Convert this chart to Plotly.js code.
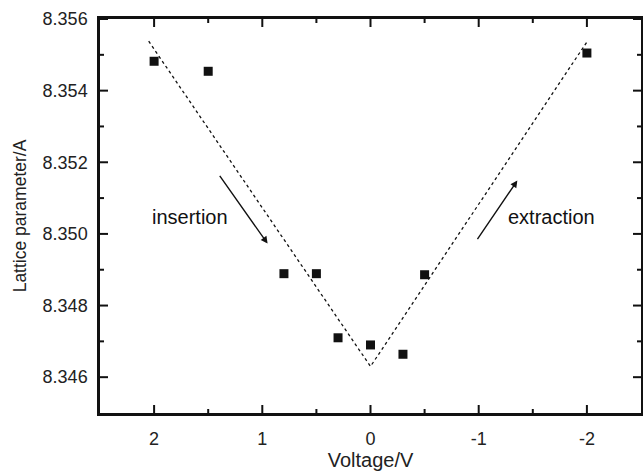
<!DOCTYPE html>
<html>
<head>
<meta charset="utf-8">
<script src="https://cdn.plot.ly/plotly-3.0.1.min.js"></script>
<style>html,body{margin:0;padding:0;background:#fff;}#chart{width:643px;height:471px;}</style>
</head>
<body>
<div id="chart"></div>
<script>
// Measured data points
const voltage = [2, 1.5, 0.8, 0.5, 0.3, 0, -0.3, -0.5, -2];
const lattice = [8.35482, 8.35454, 8.34889, 8.34889, 8.34710, 8.34690, 8.34664, 8.34886, 8.35505];
// Dotted guide (V shape)
const fitV = [2.05, 0, -2.0];
const fitA = [8.35538, 8.34630, 8.35536];
// Tick values and labels
const xTickVals = [2, 1, 0, -1, -2];
const xTickText = ["2", "1", "0", "-1", "-2"];
const xMinorVals = [1.5, 0.5, -0.5, -1.5];
const yTickVals = [8.346, 8.348, 8.350, 8.352, 8.354, 8.356];
const yTickText = ["8.346", "8.348", "8.350", "8.352", "8.354", "8.356"];
const yMinorVals = [8.347, 8.349, 8.351, 8.353, 8.355];
// Arrow annotations: [headX, headY, tailX, tailY]
const insertionArrow = [0.951, 8.34973, 1.403, 8.35166];
const extractionArrow = [-1.357, 8.35149, -0.979, 8.34981];
const labels = ["insertion", "extraction"];
const labelPos = [[1.671, 8.35048], [-1.671, 8.35048]];

const font = "Liberation Sans, Arial, Helvetica, sans-serif";
const W = 643, H = 471, M = {l: 100, r: 2, t: 19, b: 58};
const plotW = W - M.l - M.r, plotH = H - M.t - M.b;
const majorLen = 8, minorLen = 4;

const traces = [
  {x: fitV, y: fitA, mode: 'lines', line: {color: '#111', width: 1.3, dash: 'dot'}, hoverinfo: 'skip'},
  {x: voltage, y: lattice, mode: 'markers', marker: {symbol: 'square', size: 9, color: '#111'}}
];

function arrowAnn(a) {
  return {x: a[0], y: a[1], ax: a[2], ay: a[3], xref: 'x', yref: 'y', axref: 'x', ayref: 'y',
    showarrow: true, arrowhead: 2, arrowsize: 1, arrowwidth: 1.4, arrowcolor: '#111', text: ''};
}
const annotations = [arrowAnn(insertionArrow), arrowAnn(extractionArrow)];
labels.forEach((t, i) => annotations.push({x: labelPos[i][0], y: labelPos[i][1], xref: 'x', yref: 'y',
  text: t, showarrow: false, font: {family: font, size: 20, color: '#111'}}));

// Inside tick marks on all four sides, placed at the axis tick values
const shapes = [];
const tickLine = {color: '#111', width: 2};
function xTicks(vals, len) {
  const f = len / plotH;
  vals.forEach(v => {
    shapes.push({type: 'line', xref: 'x', yref: 'paper', x0: v, x1: v, y0: 0, y1: f, line: tickLine});
    shapes.push({type: 'line', xref: 'x', yref: 'paper', x0: v, x1: v, y0: 1 - f, y1: 1, line: tickLine});
  });
}
function yTicks(vals, len) {
  const f = len / plotW;
  vals.forEach(v => {
    shapes.push({type: 'line', xref: 'paper', yref: 'y', x0: f, x1: 0, y0: v, y1: v, line: tickLine});
    shapes.push({type: 'line', xref: 'paper', yref: 'y', x0: 1, x1: 1 - f, y0: v, y1: v, line: tickLine});
  });
}
xTicks(xTickVals, majorLen); xTicks(xMinorVals, minorLen);
yTicks(yTickVals, majorLen); yTicks(yMinorVals, minorLen);

const axisCommon = {
  showgrid: false, zeroline: false, showline: true, linecolor: '#111', linewidth: 2.5,
  mirror: true, ticks: '', tickfont: {family: font, size: 18, color: '#222'}
};

const layout = {
  width: W, height: H,
  margin: M,
  paper_bgcolor: '#fff', plot_bgcolor: '#fff',
  showlegend: false,
  xaxis: Object.assign({}, axisCommon, {
    range: [2.5, -2.5], tickmode: 'array', tickvals: xTickVals, ticktext: xTickText,
    ticklabelstandoff: 8,
    title: {text: 'Voltage/V', font: {family: font, size: 20, color: '#222'}, standoff: 12}
  }),
  yaxis: Object.assign({}, axisCommon, {
    range: [8.345, 8.356], tickmode: 'array', tickvals: yTickVals, ticktext: yTickText,
    ticklabelstandoff: 6,
    title: {text: 'Lattice parameter/A', font: {family: font, size: 17.5, color: '#222'}, standoff: 12}
  }),
  shapes: shapes,
  annotations: annotations
};

Plotly.newPlot('chart', traces, layout, {displayModeBar: false});
</script>
</body>
</html>
